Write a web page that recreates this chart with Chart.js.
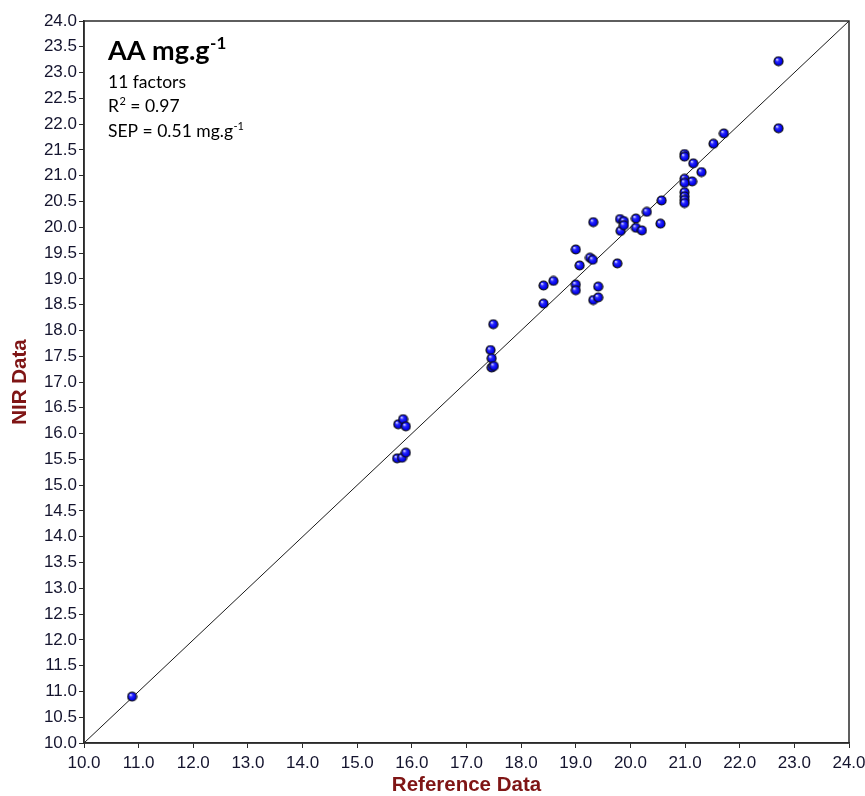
<!DOCTYPE html>
<html>
<head>
<meta charset="utf-8">
<script src="https://cdn.jsdelivr.net/npm/chart.js@4.4.1/dist/chart.umd.min.js"></script>
<style>
  html, body { margin: 0; padding: 0; background: #ffffff; }
  #wrap { width: 865px; height: 796px; }
</style>
</head>
<body>
<div id="wrap"><canvas id="c" width="865" height="796"></canvas></div>
<script>
// ---- Data ----
const referenceData = [10.88, 15.75, 15.84, 15.89, 15.73, 15.82, 15.89, 17.49, 17.44, 17.46, 17.46, 17.50,
  18.41, 18.59, 18.41, 19.00, 19.00, 19.41, 19.32, 19.41, 19.00, 19.07, 19.26, 19.31, 19.76, 19.32,
  19.81, 19.88, 19.82, 19.88, 20.10, 20.30, 20.10, 20.21, 20.55, 20.57, 20.99, 20.99, 21.15, 21.30,
  20.99, 21.13, 20.99, 20.99, 20.99, 20.99, 20.99, 21.52, 21.71, 22.71, 22.71];
const nirData = [10.90, 16.18, 16.28, 16.14, 15.52, 15.53, 15.63, 18.12, 17.62, 17.46, 17.28, 17.31,
  18.87, 18.96, 18.52, 18.89, 18.78, 18.85, 18.59, 18.64, 19.57, 19.26, 19.41, 19.37, 19.30, 20.10,
  20.16, 20.12, 19.93, 20.04, 20.17, 20.30, 19.99, 19.94, 20.07, 20.52, 21.42, 21.37, 21.24, 21.07,
  20.94, 20.89, 20.86, 20.68, 20.60, 20.53, 20.47, 21.62, 21.82, 23.22, 21.92];
const identityLine = [10.0, 24.0];
const xTickValues = [10, 11, 12, 13, 14, 15, 16, 17, 18, 19, 20, 21, 22, 23, 24];
const yTickValues = [10, 10.5, 11, 11.5, 12, 12.5, 13, 13.5, 14, 14.5, 15, 15.5, 16, 16.5, 17, 17.5,
  18, 18.5, 19, 19.5, 20, 20.5, 21, 21.5, 22, 22.5, 23, 23.5, 24];
const titleLine = [{ t: 'AA mg.g' }, { t: '-1', sup: true }];
const statLines = [
  [{ t: '11 factors' }],
  [{ t: 'R' }, { t: '2', sup: true }, { t: ' = 0.97' }],
  [{ t: 'SEP = 0.51 mg.g' }, { t: '-1', sup: true }]
];

// ---- Shaded sphere marker ----
function makeSphere(d) {
  const s = d + 2;
  const cv = document.createElement('canvas');
  cv.width = s; cv.height = s;
  const g = cv.getContext('2d');
  const r = d / 2;
  const cx = s / 2, cy = s / 2;
  const grad = g.createRadialGradient(cx - r * 0.35, cy - r * 0.4, 0.5, cx, cy, r);
  grad.addColorStop(0, '#c8c8ff');
  grad.addColorStop(0.3, '#2a2aff');
  grad.addColorStop(0.8, '#0000e8');
  grad.addColorStop(1, '#0000a0');
  g.beginPath();
  g.arc(cx, cy, r, 0, Math.PI * 2);
  g.fillStyle = grad;
  g.fill();
  g.lineWidth = 1.2;
  g.strokeStyle = '#101010';
  g.stroke();
  return cv;
}
const sphere = makeSphere(9);

const scatterPoints = referenceData.map((x, i) => ({ x: x, y: nirData[i] }));
const linePoints = identityLine.map(v => ({ x: v, y: v }));

const annotationPlugin = {
  id: 'annot',
  afterDraw(chart) {
    const ctx = chart.ctx;
    const a = chart.chartArea;
    const x0 = a.left + 24;
    function drawSegs(segs, y, size, weight) {
      let x = x0;
      segs.forEach(s => {
        const fs = s.sup ? Math.round(size * 0.62) : size;
        ctx.font = weight + ' ' + fs + 'px Lato, "Open Sans", sans-serif';
        ctx.fillStyle = '#000';
        ctx.textBaseline = 'alphabetic';
        ctx.textAlign = 'left';
        const yy = s.sup ? y - size * 0.42 : y;
        ctx.fillText(s.t, x, yy);
        x += ctx.measureText(s.t).width + (s.sup ? 0 : 0.5);
      });
    }
    ctx.save();
    drawSegs(titleLine, a.top + 39, 27, 'bold');
    const gaps = [67, 91, 116];
    statLines.forEach((ln, i) => drawSegs(ln, a.top + gaps[i], 17.5, 'normal'));
    ctx.restore();
  }
};

const framePlugin = {
  id: 'frame',
  afterDatasetsDraw(chart) {
    const a = chart.chartArea;
    const ctx = chart.ctx;
    ctx.save();
    ctx.strokeStyle = '#2a2a2a';
    ctx.lineWidth = 1.5;
    ctx.strokeRect(a.left, a.top, a.right - a.left, a.bottom - a.top);
    ctx.restore();
  }
};

const tickFont = { family: '"Liberation Sans", Arial, sans-serif', size: 17 };
const titleFont = { family: '"Liberation Sans", Arial, sans-serif', size: 20.5, weight: 'bold', lineHeight: 1 };

new Chart(document.getElementById('c'), {
  type: 'scatter',
  data: {
    datasets: [
      {
        type: 'line',
        data: linePoints,
        borderColor: '#1a1a1a',
        borderWidth: 1,
        pointRadius: 0,
        fill: false,
        order: 2
      },
      {
        data: scatterPoints,
        pointStyle: sphere,
        pointRadius: 5,
        order: 1
      }
    ]
  },
  options: {
    responsive: false,
    animation: false,
    layout: { padding: { top: 21, right: 16, left: 0, bottom: 0 } },
    plugins: { legend: { display: false }, tooltip: { enabled: false } },
    scales: {
      x: {
        type: 'linear',
        min: 10, max: 24,
        afterBuildTicks: s => { s.ticks = xTickValues.map(v => ({ value: v })); },
        afterFit: s => { s.height = 53; s.paddingRight = 0; s.paddingLeft = 0; },
        grid: { drawOnChartArea: false, drawTicks: true, tickLength: 5, tickColor: '#2a2a2a', tickWidth: 1 },
        border: { display: true, color: '#2a2a2a', width: 1.5 },
        ticks: { font: tickFont, color: '#14142e', padding: 5, maxRotation: 0, autoSkip: false,
          callback: v => Number(v).toFixed(1) },
        title: { display: true, text: 'Reference Data', color: '#7f1515', font: titleFont,
          padding: { top: 0, bottom: 0 } }
      },
      y: {
        type: 'linear',
        min: 10, max: 24,
        afterBuildTicks: s => { s.ticks = yTickValues.map(v => ({ value: v })); },
        afterFit: s => { s.width = 84; s.paddingTop = 0; s.paddingBottom = 0; },
        grid: { drawOnChartArea: false, drawTicks: true, tickLength: 5, tickColor: '#2a2a2a', tickWidth: 1 },
        border: { display: true, color: '#2a2a2a', width: 1.5 },
        ticks: { font: tickFont, color: '#14142e', padding: 2, autoSkip: false,
          callback: v => Number(v).toFixed(1) },
        title: { display: true, text: 'NIR Data', color: '#7f1515', font: titleFont,
          padding: { top: 10, bottom: 0 } }
      }
    }
  },
  plugins: [framePlugin, annotationPlugin]
});
</script>
</body>
</html>
